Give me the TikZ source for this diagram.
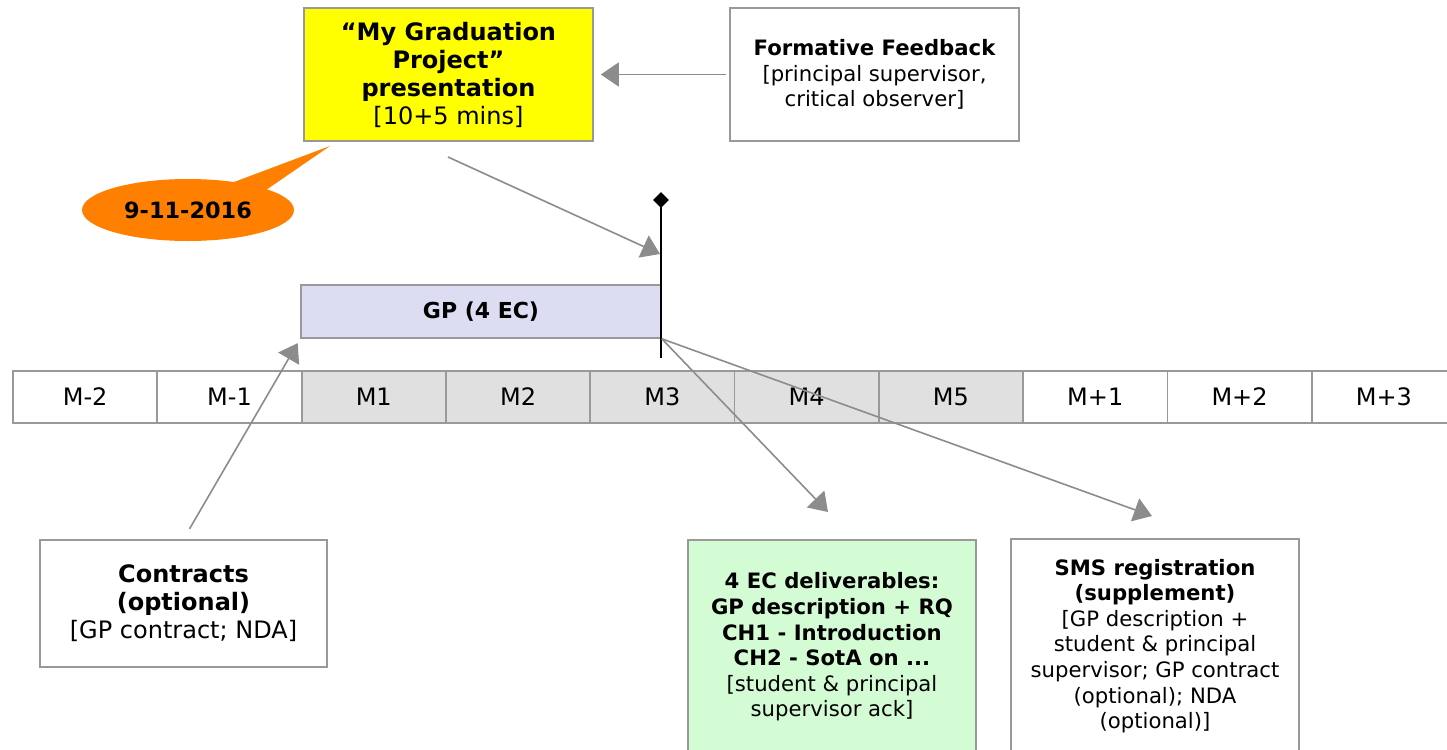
\documentclass[tikz,border=0pt]{standalone}
\usepackage{fontspec}
\setmainfont{DejaVu Sans}
\usetikzlibrary{arrows.meta,shapes.geometric}
\definecolor{boxgray}{RGB}{153,153,153}
\definecolor{linkgray}{RGB}{140,140,140}
\definecolor{monthgray}{RGB}{224,224,224}
\definecolor{gpblue}{RGB}{220,220,242}
\definecolor{presyellow}{RGB}{255,255,0}
\definecolor{delgreen}{RGB}{212,252,212}
\definecolor{dateorange}{RGB}{255,128,0}

\begin{document}
\begin{tikzpicture}[x=0.5pt, y=-0.5pt, font=\fontsize{10.6}{12.8}\selectfont,
    box/.style={draw=boxgray, line width=0.8pt, align=center, inner sep=0pt,
      minimum width=144.5pt, minimum height=66.5pt},
    month/.style={draw=boxgray, line width=0.9pt, inner sep=0pt,
      minimum width=72.15pt, minimum height=26pt, font=\fontsize{12}{14}\selectfont},
    link/.style={draw=linkgray, line width=0.8pt, -{Triangle[length=9pt,width=12pt]}}]
    \clip (0,0) rectangle (1447,750);
    \fill[white] (0,0) rectangle (1447,750);
    \foreach \m/\c [count=\i from 0] in {M-2/white, M-1/white, M1/monthgray, M2/monthgray, M3/monthgray, M4/monthgray, M5/monthgray, M+1/white, M+2/white, M+3/white}
    \node[month, fill=\c] (m\i) at (85.15+144.3*\i, 397) {\m};
    \node[box, fill=gpblue, minimum width=180pt, minimum height=26.5pt, font=\fontsize{11}{13}\selectfont\bfseries] (gp) at (481,311.5) {GP (4 EC)};
    \node[box, fill=presyellow, font=\fontsize{12}{14}\selectfont] (pres) at (448.5,74.5) {\bfseries “My Graduation\\\bfseries Project”\\\bfseries presentation\\{[}10+5 mins{]}};
    \node[box] (ff) at (874.5,74.5) {\bfseries Formative Feedback\\{[}principal supervisor,\\critical observer{]}};
    \node[box, minimum width=143.5pt, minimum height=63.5pt, font=\fontsize{12}{14}\selectfont] (contracts) at (183.5,603.5) {\bfseries Contracts\\\bfseries (optional)\\{[}GP contract; NDA{]}};
    \node[box, fill=delgreen, minimum width=144pt, minimum height=107pt] (deliv) at (832,647) {\bfseries 4 EC deliverables:\\\bfseries GP description + RQ\\\bfseries CH1 - Introduction\\\bfseries CH2 - SotA on ...\\{[}student \& principal\\supervisor ack{]}};
    \node[box, minimum width=144pt, minimum height=107pt] (sms) at (1155,646) {\bfseries SMS registration\\\bfseries (supplement)\\{[}GP description +\\student \& principal\\supervisor; GP contract\\(optional); NDA\\(optional){]}};
    \fill[dateorange] (226,185) -- (330,146) -- (266,190) -- cycle;
    \node[ellipse, fill=dateorange, minimum width=106pt, minimum height=31pt, font=\fontsize{11.2}{13}\selectfont\bfseries] (date) at (188,210) {9-11-2016};
    \coordinate (ms top) at (661,200);
    \coordinate (ms bot) at (661,358);
    \coordinate (ms hit) at (660,254);
    \coordinate (pres tail) at (448,157);
    \coordinate (deliv tip) at (828,512);
    \coordinate (sms tip) at (1152,516);
    \draw[line width=1pt] (ms bot) -- (ms top);
    \node[diamond, fill=black, inner sep=0pt, minimum size=8pt] (ms) at (ms top) {};
    \draw[link, shorten <=1.5pt, shorten >=3.5pt] (ff.west) -- (pres.east);
    \draw[link] (pres tail) -- (ms hit);
    \draw[link, shorten <=6pt, shorten >=2.5pt] (contracts.north) -- (gp.south west);
    \draw[link] (gp.south east) -- (deliv tip);
    \draw[link] (gp.south east) -- (sms tip);
\end{tikzpicture}
\end{document}
